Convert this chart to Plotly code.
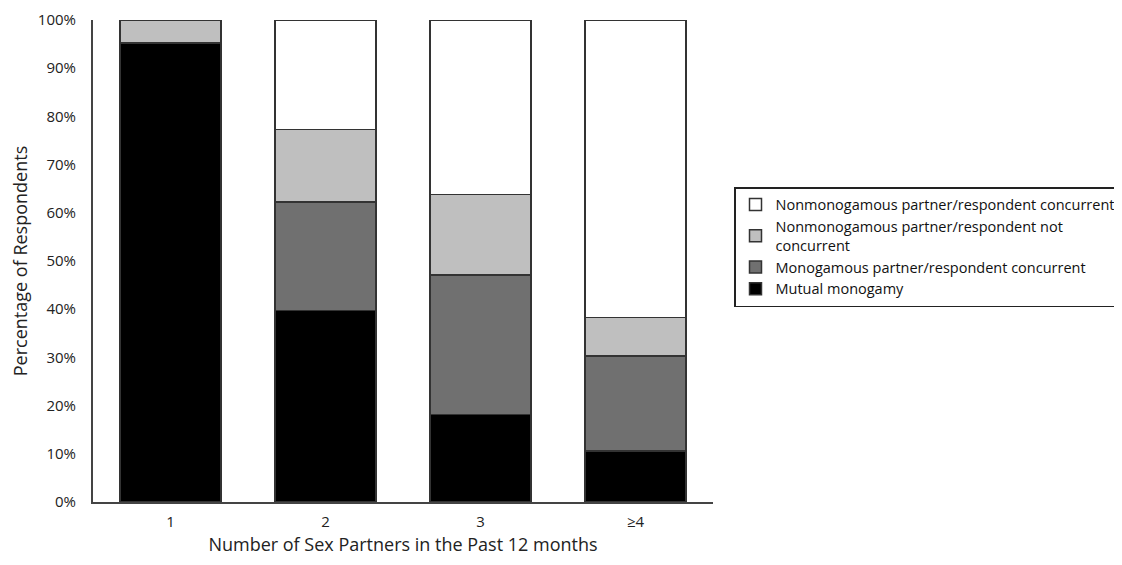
import plotly.graph_objects as go

categories = ["1", "2", "3", "≥4"]
mutual_monogamy = [95.2, 39.7, 18.2, 10.6]
mono_concurrent = [0.0, 22.5, 28.9, 19.7]
nonmono_not_concurrent = [4.8, 15.1, 16.7, 8.0]
nonmono_concurrent = [0.0, 22.7, 36.2, 61.7]

y_tickvals = list(range(0, 101, 10))
y_ticktext = [f"{v}%" for v in y_tickvals]

series = [
    ("Mutual monogamy", mutual_monogamy, "#000000"),
    ("Monogamous partner/respondent concurrent", mono_concurrent, "#707070"),
    ("Nonmonogamous partner/respondent not<br>concurrent", nonmono_not_concurrent, "#bfbfbf"),
    ("Nonmonogamous partner/respondent concurrent", nonmono_concurrent, "#ffffff"),
]

FONT = "Open Sans"

# page body has an 8px margin; figure is sized so it fills the window exactly
W, H = 1114, 557
L, T, PW, PH = 85, 12, 620, 482

fig = go.Figure()
for name, vals, col in series:
    fig.add_trace(go.Bar(
        x=categories, y=vals, name=name,
        marker=dict(color=col, line=dict(color="#333333", width=1.5)),
    ))

fig.update_layout(
    barmode="stack",
    bargap=0.35,
    width=W, height=H,
    autosize=False,
    margin=dict(l=L, r=W - L - PW, t=T, b=H - T - PH, pad=0),
    plot_bgcolor="white", paper_bgcolor="white",
    font=dict(family=FONT, size=15, color="#222222"),
    showlegend=True,
    legend=dict(
        traceorder="reversed",
        xref="container", yref="container",
        x=726 / W, xanchor="left", y=1 - 179 / H, yanchor="top",
        bordercolor="#222222", borderwidth=1.5,
        font=dict(family=FONT, size=14.5, color="#111111"),
        itemwidth=30, tracegroupgap=0,
    ),
    xaxis=dict(
        automargin=False,
        showline=True, linecolor="#444444", linewidth=2,
        ticks="", ticklabelstandoff=5,
        tickfont=dict(size=15),
        title=dict(text="Number of Sex Partners in the Past 12 months",
                   font=dict(size=18), standoff=8),
        range=[-0.5, 3.5],
    ),
    yaxis=dict(
        automargin=False,
        range=[0, 100], tickmode="array", tickvals=y_tickvals, ticktext=y_ticktext,
        showgrid=False, zeroline=False,
        showline=True, linecolor="#444444", linewidth=2,
        ticks="", ticklabelstandoff=12,
        tickfont=dict(size=15),
        title=dict(text="Percentage of Respondents", font=dict(size=18), standoff=7),
    ),
)

fig.write_html("out.html")
